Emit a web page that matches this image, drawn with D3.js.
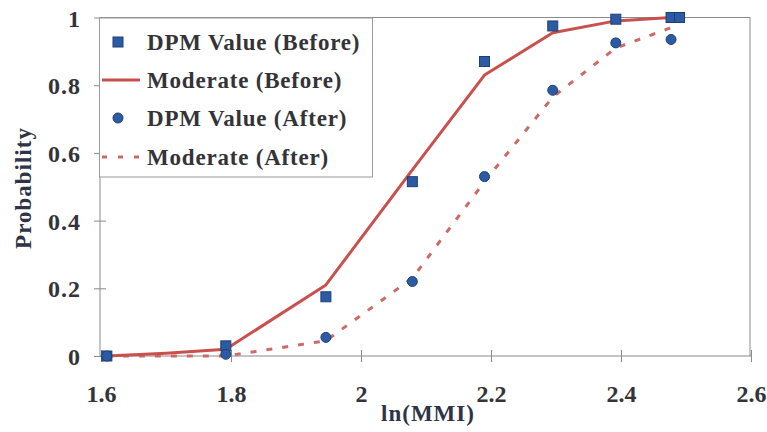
<!DOCTYPE html>
<html>
<head>
<meta charset="utf-8">
<script src="https://cdn.jsdelivr.net/npm/d3@7"></script>
<style>
  body { margin: 0; background: #fff; }
</style>
</head>
<body>
<svg id="chart"></svg>
<script>
// ln(MMI) positions
let xBefore = [1.609, 1.792, 1.946, 2.079, 2.19, 2.295, 2.392, 2.477, 2.49];
let xAfter = [1.609, 1.792, 1.946, 2.079, 2.19, 2.295, 2.392, 2.477];
let xModel = [1.609, 1.70, 1.792, 1.946, 2.079, 2.19, 2.295, 2.392, 2.477, 2.49];

let dpmBefore = [0, 0.03, 0.175, 0.515, 0.87, 0.975, 0.995, 1.0, 1.0];
let dpmAfter = [0, 0.005, 0.055, 0.22, 0.53, 0.785, 0.925, 0.935];
let modBefore = [0, 0.008, 0.02, 0.21, 0.55, 0.83, 0.955, 0.99, 1.0, 1.0];
let modAfter = [0, 0.0, 0.0, 0.045, 0.23, 0.515, 0.765, 0.91, 0.97, 0.978];

let xTicks = [1.6, 1.8, 2, 2.2, 2.4, 2.6];
let yTicks = [0, 0.2, 0.4, 0.6, 0.8, 1];
let legendItems = ["DPM Value (Before)", "Moderate (Before)", "DPM Value (After)", "Moderate (After)"];

const W = 767, H = 432;
const FONT = "'Liberation Serif', Tinos, 'Times New Roman', Times, serif";
const svg = d3.select("#chart").attr("width", W).attr("height", H)
	.style("font-family", FONT).style("font-weight", "bold");

const x = d3.scaleLinear().domain([1.6, 2.6]).range([101, 751]);
const y = d3.scaleLinear().domain([0, 1]).range([356, 17.5]);

const axisCol = "#8a8a8a";
const textCol = "#333338";
const red = "#c9504c";
const blue = "#2c5ba6";

// frame top/right
svg.append("line").attr("x1", x(1.6) - 1).attr("x2", x(2.6) - 1)
	.attr("y1", y(1)).attr("y2", y(1)).style("stroke", axisCol);
svg.append("line").attr("x1", x(2.6) - 1).attr("x2", x(2.6) - 1)
	.attr("y1", y(1)).attr("y2", y(0)).style("stroke", axisCol);

// x axis
let gx = svg.append("g").attr("transform", `translate(0,${y(0)})`)
	.call(d3.axisBottom(x).tickValues(xTicks).tickFormat(d3.format("")).tickSize(5));
gx.attr("font-family", null).attr("font-size", null);
gx.select(".domain").attr("d", `M${x(1.6) - 1},0H${x(2.6)}`).style("stroke", axisCol);
gx.selectAll(".tick line").attr("y1", -6).attr("y2", 6).style("stroke", axisCol);
gx.selectAll(".tick text").attr("y", 46).attr("dy", null)
	.style("font-size", "24px").style("font-family", FONT).style("fill", textCol);

// y axis
let gy = svg.append("g").attr("transform", `translate(${x(1.6) - 1},0)`)
	.call(d3.axisLeft(y).tickValues(yTicks).tickFormat(d3.format("")).tickSize(5).tickPadding(14));
gy.attr("font-family", null).attr("font-size", null);
gy.select(".domain").attr("d", `M0,${y(1)}V${y(0)}`).style("stroke", axisCol);
gy.selectAll(".tick line").attr("x1", -6).attr("x2", 6).style("stroke", axisCol);
gy.selectAll(".tick text").attr("dy", "0.36em")
	.style("font-size", "24px").style("font-family", FONT).style("fill", textCol)
	.style("letter-spacing", "1px");

// axis titles
svg.append("text").attr("x", (x(1.6) + x(2.6)) / 2 + 2).attr("y", 421)
	.attr("text-anchor", "middle").style("font-size", "23px").style("fill", "#2e3445")
	.style("letter-spacing", "1px")
	.text("ln(MMI)");
svg.append("text").attr("transform", "translate(31,188) rotate(-90)")
	.attr("text-anchor", "middle").style("font-size", "23px").style("fill", "#2e3445")
	.style("letter-spacing", "1px")
	.text("Probability");

// model lines
let line = d3.line().x(d => x(d[0])).y(d => y(d[1])).curve(d3.curveLinear);
svg.append("path").datum(d3.zip(xModel, modAfter)).attr("d", line)
	.style("fill", "none").style("stroke", "#cc6a66").style("stroke-width", 3)
	.style("stroke-dasharray", "6,10");
svg.append("path").datum(d3.zip(xModel, modBefore)).attr("d", line)
	.style("fill", "none").style("stroke", red).style("stroke-width", 3)
	.style("stroke-linejoin", "round");

// points
svg.selectAll(".sq").data(d3.zip(xBefore, dpmBefore)).enter().append("rect")
	.attr("x", d => x(d[0]) - 5).attr("y", d => y(d[1]) - 5)
	.attr("width", 10).attr("height", 10)
	.style("fill", blue).style("stroke", "#1f3f72").style("stroke-width", 1);
svg.selectAll(".ci").data(d3.zip(xAfter, dpmAfter)).enter().append("circle")
	.attr("cx", d => x(d[0])).attr("cy", d => y(d[1])).attr("r", 5)
	.style("fill", blue).style("stroke", "#1f3f72").style("stroke-width", 1);

// legend
let lg = svg.append("g");
lg.append("rect").attr("x", 99.5).attr("y", 18).attr("width", 273).attr("height", 159)
	.style("fill", "#fff").style("stroke", "#999");
let rowY = [42, 80, 118, 157];
legendItems.forEach(function(t, i) {
	lg.append("text").attr("x", 147).attr("y", rowY[i] + 8)
		.style("font-size", "23px").style("fill", textCol).style("letter-spacing", "0.8px")
		.text(t);
});
lg.append("rect").attr("x", 113).attr("y", rowY[0] - 5).attr("width", 10).attr("height", 10)
	.style("fill", blue).style("stroke", "#1f3f72");
lg.append("line").attr("x1", 102).attr("x2", 140).attr("y1", rowY[1]).attr("y2", rowY[1])
	.style("stroke", red).style("stroke-width", 3);
lg.append("circle").attr("cx", 118).attr("cy", rowY[2]).attr("r", 5)
	.style("fill", blue).style("stroke", "#1f3f72");
lg.append("line").attr("x1", 102).attr("x2", 142).attr("y1", rowY[3]).attr("y2", rowY[3])
	.style("stroke", "#cc6a66").style("stroke-width", 3).style("stroke-dasharray", "5,11");
</script>
</body>
</html>
